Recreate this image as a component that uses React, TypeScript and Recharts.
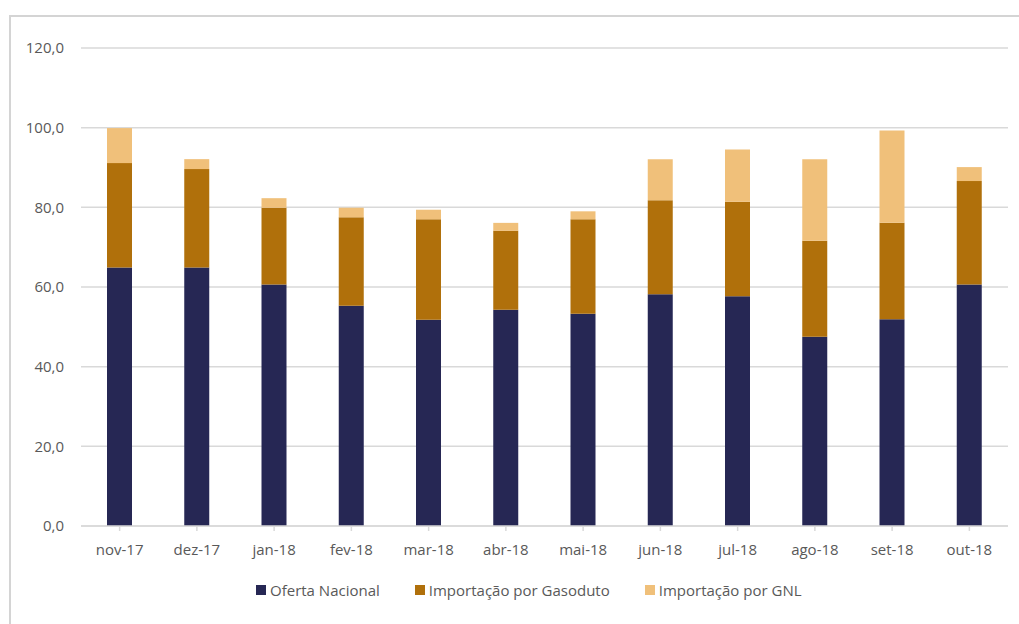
import { BarChart, Bar, XAxis, YAxis, CartesianGrid, Legend } from 'recharts';

// oferta de gás natural por origem (milhões m³/dia)
const meses = ['nov-17', 'dez-17', 'jan-18', 'fev-18', 'mar-18', 'abr-18', 'mai-18', 'jun-18', 'jul-18', 'ago-18', 'set-18', 'out-18'];
const ofertaNacional = [64.9, 64.9, 60.6, 55.3, 51.8, 54.3, 53.3, 58.2, 57.7, 47.5, 51.9, 60.6];
const importGasoduto = [26.2, 24.7, 19.3, 22.2, 25.2, 19.8, 23.7, 23.6, 23.7, 24.1, 24.2, 26.0];
const importGnl = [8.8, 2.5, 2.4, 2.4, 2.4, 2.0, 2.0, 10.3, 13.1, 20.5, 23.2, 3.5];
const yTicks = [0, 20, 40, 60, 80, 100, 120];

const series = [
  { key: 'nacional', name: 'Oferta Nacional', color: '#262754' },
  { key: 'gasoduto', name: 'Importação por Gasoduto', color: '#B0700B' },
  { key: 'gnl', name: 'Importação por GNL', color: '#F0C07A' },
];

const data = meses.map((mes, i) => ({
  mes,
  nacional: ofertaNacional[i],
  gasoduto: importGasoduto[i],
  gnl: importGnl[i],
}));

const FONT = '"Open Sans", sans-serif';
const TEXT = '#595959';

const fmt = (v: number) => v.toFixed(1).replace('.', ',');

const LegendBox = () => (
  <div style={{ display: 'flex', alignItems: 'center', fontFamily: FONT, fontSize: 15, color: TEXT }}>
    {series.map((s, i) => (
      <div key={s.key} style={{ display: 'flex', alignItems: 'center', marginLeft: i === 0 ? 0 : 35 }}>
        <span style={{ width: 10, height: 10, background: s.color, display: 'inline-block', marginRight: 4 }} />
        <span>{s.name}</span>
      </div>
    ))}
  </div>
);

export default function App() {
  return (
    <div style={{ position: 'absolute', top: 0, left: 0, width: 1019, height: 624, overflow: 'hidden', background: '#fff' }}>
      <div
        style={{
          position: 'absolute',
          left: 9,
          top: 15,
          width: 1100,
          height: 700,
          border: '2px solid #d4d4d4',
        }}
      />
      <div style={{ position: 'absolute', left: 0, top: 0 }}>
        <BarChart
          width={1019}
          height={624}
          data={data}
          margin={{ top: 48, right: 11, left: 21, bottom: 68 }}
        >
          <CartesianGrid vertical={false} stroke="#d9d9d9" strokeWidth={1.5} />
          <XAxis
            dataKey="mes"
            height={30}
            stroke="#d9d9d9"
            strokeWidth={1.5}
            tickSize={5}
            tickMargin={13}
            tick={{ fill: TEXT, fontSize: 15, fontFamily: FONT }}
            interval={0}
          />
          <YAxis
            width={60}
            domain={[0, 120]}
            ticks={yTicks}
            axisLine={false}
            tickLine={false}
            tickMargin={11}
            tickFormatter={fmt}
            tick={{ fill: TEXT, fontSize: 15, fontFamily: FONT }}
          />
          <Legend
            layout="horizontal"
            verticalAlign="middle"
            align="center"
            content={<LegendBox />}
            wrapperStyle={{ top: 580, left: 256, width: 'auto' }}
          />
          {series.map((s) => (
            <Bar
              key={s.key}
              dataKey={s.key}
              name={s.name}
              stackId="oferta"
              fill={s.color}
              barSize={25}
              isAnimationActive={false}
            />
          ))}
        </BarChart>
      </div>
    </div>
  );
}
